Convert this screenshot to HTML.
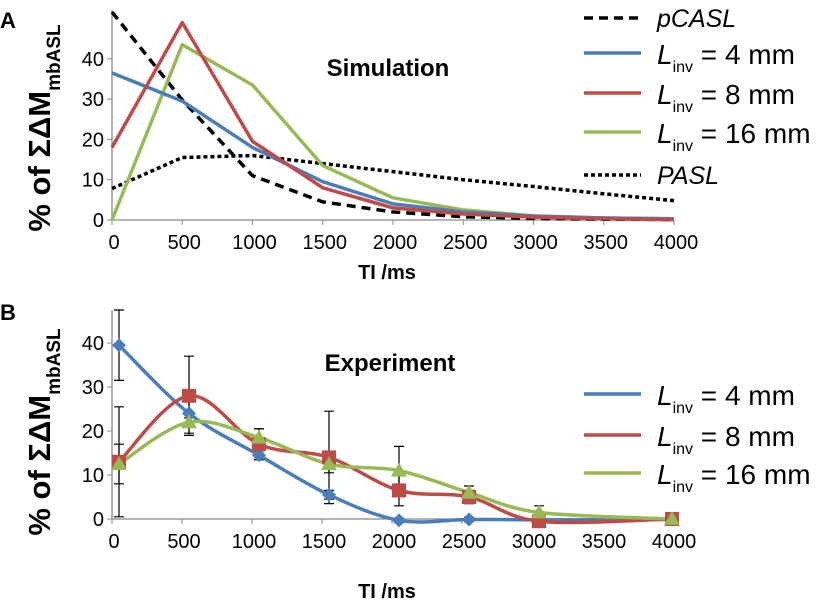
<!DOCTYPE html>
<html><head><meta charset="utf-8"><style>
body{margin:0;background:#fff;}
svg{display:block;font-family:"Liberation Sans",Arial,sans-serif;}
</style></head><body>
<svg id="chart" width="822" height="613" xmlns="http://www.w3.org/2000/svg">
<g id="A"></g>
<g id="B"></g>
</svg>
<script>
// Panel A data
const tiA = [0,500,1000,1500,2000,2500,3000,3500,4000];
const pcasl = [51.6,29.8,11,4.5,2,0.8,0.4,0.2,0.1];
const simL4 = [36.5,29.5,18,9.5,4,2,1,0.5,0.3];
const simL8 = [18,49,19.5,8,3,1.5,0.7,0.3,0.1];
const simL16 = [0,43.5,33.5,13.5,5.5,2.5,1,0.5,0.3];
const pasl = [7.8,15.5,16,14,12,10,8.3,6.5,4.8];
// Panel B data
const tiB = [50,550,1050,1550,2050,2550,3050,4000];
const expL4 = [39.5,24,14.5,5.5,-0.3,-0.1,-0.2,-0.1];
const expL8 = [13,28,17,14,6.5,5,-0.5,0];
const expL16 = [12.5,22,18.5,12.5,11,6,1.5,0];
const errL4 = [8,4.5,1,1,0.5,0.5,0.5,0];
const errL8 = [12.5,9,3.5,10.5,3.5,1.5,0.5,0];
const errL16 = [4.5,1,2,2,5.5,1.5,1.5,0];
const xTicks = [0,500,1000,1500,2000,2500,3000,3500,4000];
const yTicks = [0,10,20,30,40];

const NS="http://www.w3.org/2000/svg";
function el(p,t,a){const e=document.createElementNS(NS,t);for(const k in a)e.setAttribute(k,a[k]);p.appendChild(e);return e;}

function panel(g,cfg){
  const X=v=>cfg.x0+(v/4000)*(cfg.x1-cfg.x0);
  const Y=v=>cfg.y0-v*cfg.k;
  const ax=el(g,'path',{d:`M${cfg.x0},${cfg.ytop}V${cfg.y0}H${cfg.x1}`,stroke:'#888',fill:'none','stroke-width':1.3});
  
  
  xTicks.forEach(t=>{
    el(g,'line',{x1:X(t),x2:X(t),y1:cfg.y0,y2:cfg.y0+5,stroke:'#888'});
    const tx=el(g,'text',{x:X(t)+2,y:cfg.y0+29,'font-size':20,'text-anchor':'middle'});tx.textContent=t;
    
    
  });
  yTicks.forEach(t=>{
    el(g,'line',{x1:cfg.x0-5,x2:cfg.x0,y1:Y(t),y2:Y(t),stroke:'#888'});
    const tx=el(g,'text',{x:cfg.x0-8,y:Y(t)+7,'font-size':20,'text-anchor':'end'});tx.textContent=t;
    
    
  });
  return {X,Y};
}
function poly(g,xs,ys,X,Y,st,name,smooth){
  const p=xs.map((x,i)=>[X(x),Y(ys[i])]);
  let d='M'+p[0].join(',');
  if(!smooth){for(let i=1;i<p.length;i++)d+='L'+p[i].join(',');}
  else{for(let i=0;i<p.length-1;i++){const p0=p[i-1]||p[i],p1=p[i],p2=p[i+1],p3=p[i+2]||p2;
    const c1=[p1[0]+(p2[0]-p0[0])/6,p1[1]+(p2[1]-p0[1])/6],c2=[p2[0]-(p3[0]-p1[0])/6,p2[1]-(p3[1]-p1[1])/6];
    d+=`C${c1} ${c2} ${p2}`;}}
  const e=el(g,'path',Object.assign({d,fill:'none','stroke-linejoin':'round'},st));
  
  
}
function text(g,x,y,s,html,name,extra){const t=el(g,'text',Object.assign({x,y,'font-size':s},extra||{}));t.innerHTML=html;
  
  return t;}

const BLUE='#4a7ebb',RED='#be4b48',GREEN='#98b954';
// Panel A
const gA=document.getElementById('A');
const a=panel(gA,{x0:112,x1:674,y0:220,k:4.03,ytop:10});
poly(gA,tiA,pasl,a.X,a.Y,{stroke:'#000','stroke-width':3.5,'stroke-dasharray':'4,3'},'pasl-line');
poly(gA,tiA,pcasl,a.X,a.Y,{stroke:'#000','stroke-width':3.5,'stroke-dasharray':'9,6'},'pcasl-line');
poly(gA,tiA,simL16,a.X,a.Y,{stroke:GREEN,'stroke-width':3.5},'sim-l16-line');
poly(gA,tiA,simL4,a.X,a.Y,{stroke:BLUE,'stroke-width':3.5},'sim-l4-line');
poly(gA,tiA,simL8,a.X,a.Y,{stroke:RED,'stroke-width':3.5},'sim-l8-line');
text(gA,388,76,24,'Simulation','title-a',{'font-weight':'bold','text-anchor':'middle'});
text(gA,387,279,20,'TI /ms','x-axis-title-a',{'font-weight':'bold','text-anchor':'middle'});
text(gA,0,28,22,'A','panel-label-a',{'font-weight':'bold'});
text(gA,0,0,31,'% of ΣΔM<tspan font-size="19" dy="10">mbASL</tspan>','y-axis-title-a',{'font-weight':'bold','text-anchor':'middle',transform:'translate(50,128) rotate(-90)'});
// Panel A legend
const legA=[['pCASL',{stroke:'#000','stroke-dasharray':'9,6'},18,null],['4',{stroke:BLUE},53,1],['8',{stroke:RED},93,1],['16',{stroke:GREEN},132,1],['PASL',{stroke:'#000','stroke-dasharray':'4,3'},175,null]];
function legend(g,items){items.forEach(([lab,st,y,isL])=>{
  const l=el(g,'line',Object.assign({x1:584,x2:641,y1:y,y2:y,'stroke-width':3.5},st));
  
  
  if(isL) text(g,657,y+11,28,`<tspan font-style="italic">L</tspan><tspan font-size="16" dy="8">inv</tspan><tspan dy="-8"> = ${lab} mm</tspan>`,'legend-entry');
  else text(g,657,y+9,25,`<tspan font-style="italic">${lab}</tspan>`,'legend-entry');
});}
legend(gA,legA);

// Panel B
const gB=document.getElementById('B');
const b=panel(gB,{x0:112,x1:672,y0:519,k:4.4,ytop:310});
[[expL4,errL4],[expL8,errL8],[expL16,errL16]].forEach(([v,e])=>{
  tiB.forEach((t,i)=>{if(!e[i])return;const x=b.X(t);
    const eb=el(gB,'path',{d:`M${x},${b.Y(v[i]-e[i])}V${b.Y(v[i]+e[i])}M${x-5},${b.Y(v[i]-e[i])}h10M${x-5},${b.Y(v[i]+e[i])}h10`,stroke:'#000','stroke-width':1.2,fill:'none'});
    
    
  });
});
poly(gB,tiB,expL4,b.X,b.Y,{stroke:BLUE,'stroke-width':3.5},'exp-l4-line',true);
poly(gB,tiB,expL8,b.X,b.Y,{stroke:RED,'stroke-width':3.5},'exp-l8-line',true);
poly(gB,tiB,expL16,b.X,b.Y,{stroke:GREEN,'stroke-width':3.5},'exp-l16-line',true);
tiB.forEach((t,i)=>{
  const x=b.X(t);
  let y=b.Y(expL4[i]);
  const d=el(gB,'path',{d:`M${x},${y-7}L${x+7},${y}L${x},${y+7}L${x-7},${y}Z`,fill:BLUE});
  
  
  y=b.Y(expL8[i]);
  const s=el(gB,'rect',{x:x-7,y:y-7,width:14,height:14,fill:RED});
  
  
  y=b.Y(expL16[i]);
  const tr=el(gB,'path',{d:`M${x},${y-8}L${x+8},${y+6}L${x-8},${y+6}Z`,fill:GREEN});
  
  
});
text(gB,390,371,24,'Experiment','title-b',{'font-weight':'bold','text-anchor':'middle'});
text(gB,387,598,20,'TI /ms','x-axis-title-b',{'font-weight':'bold','text-anchor':'middle'});
text(gB,0,320,22,'B','panel-label-b',{'font-weight':'bold'});
text(gB,0,0,31,'% of ΣΔM<tspan font-size="19" dy="10">mbASL</tspan>','y-axis-title-b',{'font-weight':'bold','text-anchor':'middle',transform:'translate(50,432) rotate(-90)'});
legend(gB,[['4',{stroke:BLUE},394,1],['8',{stroke:RED},435,1],['16',{stroke:GREEN},473,1]]);
</script>
</body></html>
